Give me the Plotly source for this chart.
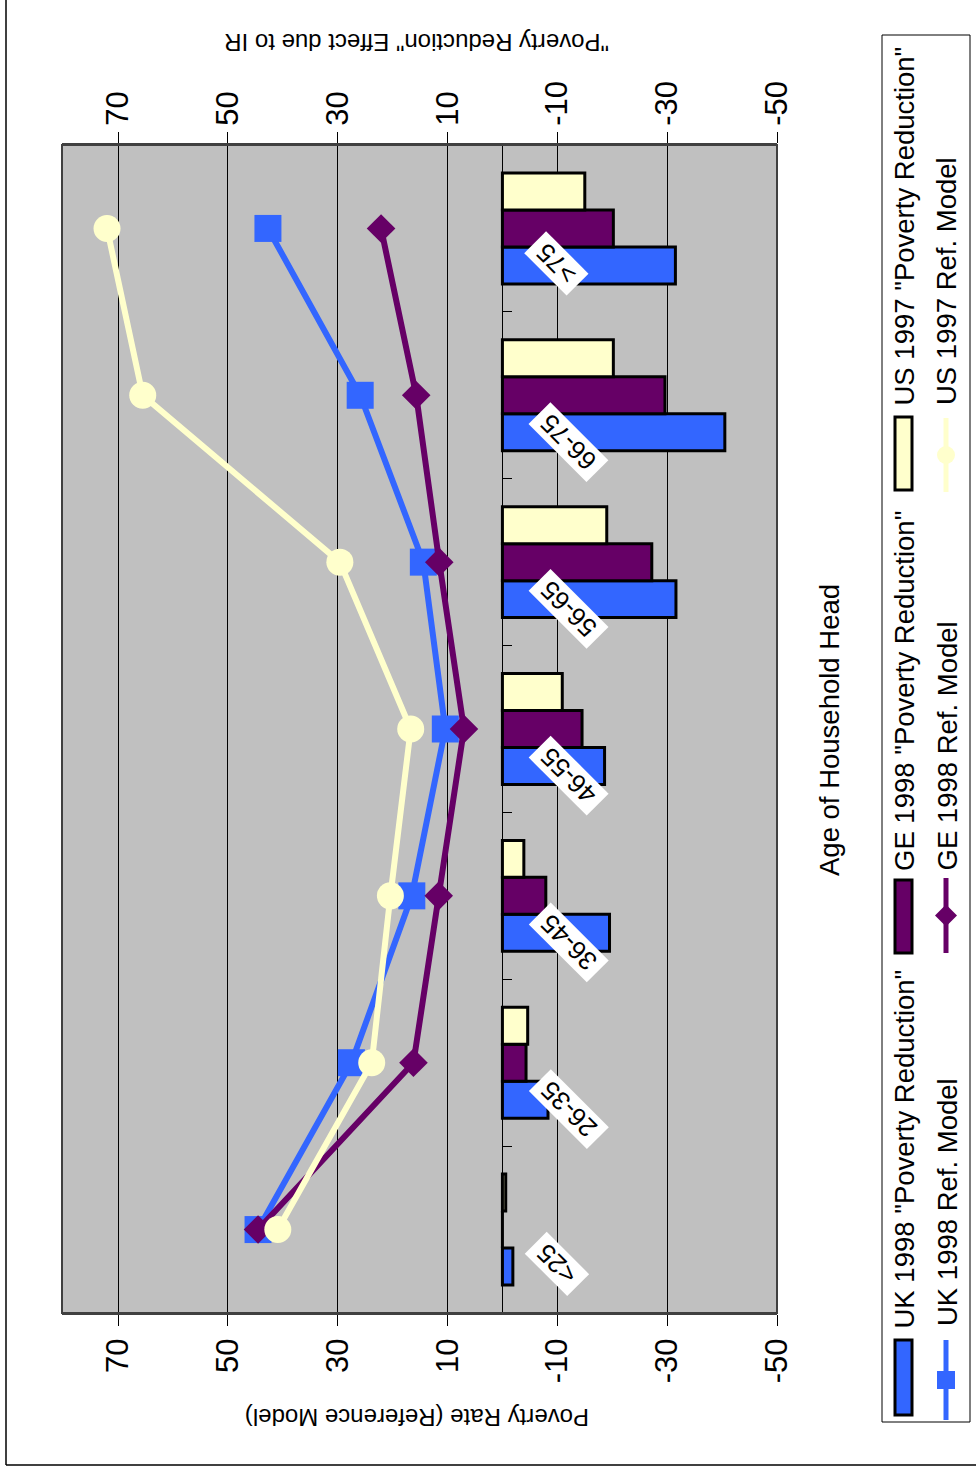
import plotly.graph_objects as go

# ---------------- data ----------------
categories = ["<25", "26-35", "36-45", "46-55", "56-65", "66-75", ">75"]

# "Poverty Reduction" effect due to IR (bars, right/top axis)
uk_reduction = [-1.9, -8.3, -19.5, -18.6, -31.6, -40.5, -31.5]
ge_reduction = [0.0, -4.3, -7.9, -14.5, -27.2, -29.6, -20.2]
us_reduction = [-0.6, -4.6, -3.9, -10.9, -19.0, -20.2, -15.0]

# Poverty rate, reference model (lines, left/bottom axis)
uk_rate = [44.5, 27.5, 16.5, 10.4, 14.4, 25.9, 42.7]
ge_rate = [44.5, 16.2, 11.6, 7.0, 11.5, 15.7, 22.1]
us_rate = [40.9, 23.8, 20.4, 16.7, 29.6, 65.5, 72.0]

tick_vals = [70, 50, 30, 10, -10, -30, -50]
tick_text = ["70", "50", "30", "10", "-10", "-30", "-50"]

legend_bar_names = ['UK 1998 "Poverty Reduction"', 'GE 1998 "Poverty Reduction"', 'US 1997 "Poverty Reduction"']
legend_line_names = ["UK 1998 Ref. Model", "GE 1998 Ref. Model", "US 1997 Ref. Model"]

title_bottom = "Poverty Rate (Reference Model)"
title_top = '"Poverty Reduction" Effect due to IR'
title_cat = "Age of Household Head"

# ---------------- style ----------------
BLUE = "#3366FF"
PURPLE = "#660066"
YELLOW = "#FFFFCC"
FONT = "Liberation Sans, Arial, sans-serif"

W, H = 976, 1472
PL, PR, PT, PB = 62, 777, 145, 1313
XR = [80.2, -50]


def X(px):
    return (px - PL) / (PR - PL)


def Y(py):
    return (PB - py) / (PB - PT)


zero_pos = (XR[0] - 0) / (XR[0] - XR[1])

fig = go.Figure()

bar_sets = [(uk_reduction, BLUE, legend_bar_names[0]),
            (ge_reduction, PURPLE, legend_bar_names[1]),
            (us_reduction, YELLOW, legend_bar_names[2])]
for vals, col, name in bar_sets:
    fig.add_trace(go.Bar(
        y=categories, x=vals, orientation="h", name=name,
        xaxis="x2", yaxis="y",
        marker=dict(color=col, line=dict(color="black", width=3)),
        showlegend=False,
    ))

line_sets = [(uk_rate, BLUE, "square", 27, legend_line_names[0]),
             (ge_rate, PURPLE, "diamond", 22, legend_line_names[1]),
             (us_rate, YELLOW, "circle", 27, legend_line_names[2])]
for vals, col, sym, sz, name in line_sets:
    fig.add_trace(go.Scatter(
        y=categories, x=vals, mode="lines+markers", name=name,
        xaxis="x", yaxis="y",
        line=dict(color=col, width=6),
        marker=dict(symbol=sym, size=sz, color=col, line=dict(width=0)),
        showlegend=False,
    ))

axis_common = dict(
    range=XR, tickmode="array", tickvals=tick_vals, ticktext=tick_text,
    tickangle=-90, tickfont=dict(family=FONT, size=31, color="black"),
    ticks="outside", ticklen=11, tickwidth=1, tickcolor="black",
    showline=True, linecolor="#404040", linewidth=2, zeroline=False,
)

fig.update_layout(
    width=W, height=H,
    margin=dict(l=PL, r=W - PR, t=PT, b=H - PB, pad=0),
    paper_bgcolor="white", plot_bgcolor="#C0C0C0",
    barmode="group", bargap=0.335, bargroupgap=0,
    showlegend=False,
    font=dict(family=FONT, color="black"),
    xaxis=dict(**axis_common, side="bottom", showgrid=True, gridcolor="black", gridwidth=1),
    xaxis2=dict(**axis_common, side="top", overlaying="x", showgrid=False),
    yaxis=dict(type="category", range=[-0.5, 6.5], anchor="free", position=zero_pos,
               side="right", showline=True, linecolor="black", linewidth=1,
               ticks="outside", tickson="boundaries", ticklen=9, tickcolor="black",
               showticklabels=False, showgrid=False, zeroline=False),
)

annotations = []
shapes = []

# category labels (rotated, white boxes)
for i, c in enumerate(categories):
    n = len(c)
    annotations.append(dict(
        x=-6.66, y=c, xref="x", yref="y", text=" " + c + " ", showarrow=False,
        textangle=-135, font=dict(family=FONT, size=26, color="black"),
        bgcolor="white", borderpad=0, xanchor="center", yanchor="middle",
        xshift=6 * n, yshift=-(17 + 6 * n),
    ))

# axis titles
annotations.append(dict(x=X(417), y=Y(1418), xref="paper", yref="paper", text=title_bottom,
                        showarrow=False, textangle=180, font=dict(family=FONT, size=24),
                        xanchor="center", yanchor="middle"))
annotations.append(dict(x=X(417), y=Y(43), xref="paper", yref="paper", text=title_top,
                        showarrow=False, textangle=180, font=dict(family=FONT, size=24),
                        xanchor="center", yanchor="middle"))
annotations.append(dict(x=X(829), y=Y(730), xref="paper", yref="paper", text=title_cat,
                        showarrow=False, textangle=-90, font=dict(family=FONT, size=27.5),
                        xanchor="center", yanchor="middle"))

# plot-area border
shapes.append(dict(type="rect", xref="paper", yref="paper", x0=0, x1=1, y0=0, y1=1,
                   line=dict(color="#404040", width=2), layer="above"))
# outer frame (left and bottom visible)
shapes.append(dict(type="line", xref="paper", yref="paper", x0=X(6), x1=X(6), y0=Y(0), y1=Y(1465),
                   line=dict(color="black", width=1.5)))
shapes.append(dict(type="line", xref="paper", yref="paper", x0=X(6), x1=X(976), y0=Y(1465), y1=Y(1465),
                   line=dict(color="black", width=1.5)))

# legend box
shapes.append(dict(type="rect", xref="paper", yref="paper", x0=X(882), x1=X(970), y0=Y(1422), y1=Y(35),
                   line=dict(color="black", width=1), fillcolor="white"))

bar_rects = [(1340, 1415), (880, 953), (417, 490)]
row1_text_bottom = [1330, 873, 407]
line_segs = [(1340, 1420), (878, 953), (418, 492)]
row2_text_bottom = [1328, 873, 407]
cols = [BLUE, PURPLE, YELLOW]
syms = ["square", "diamond", "circle"]

for k in range(3):
    y0, y1 = bar_rects[k]
    shapes.append(dict(type="rect", xref="paper", yref="paper", x0=X(895), x1=X(912),
                       y0=Y(y1), y1=Y(y0), fillcolor=cols[k], line=dict(color="black", width=3)))
    annotations.append(dict(x=X(904), y=Y(row1_text_bottom[k]), xref="paper", yref="paper",
                            text=legend_bar_names[k], showarrow=False, textangle=-90,
                            font=dict(family=FONT, size=27.5), xanchor="center", yanchor="bottom"))
    s0, s1 = line_segs[k]
    shapes.append(dict(type="line", xref="paper", yref="paper", x0=X(946), x1=X(946),
                       y0=Y(s0), y1=Y(s1), line=dict(color=cols[k], width=5)))
    cy = (s0 + s1) / 2
    if syms[k] == "square":
        shapes.append(dict(type="rect", xref="paper", yref="paper", x0=X(937), x1=X(955),
                           y0=Y(cy + 9), y1=Y(cy - 9), fillcolor=cols[k], line=dict(width=0)))
    elif syms[k] == "diamond":
        path = "M {} {} L {} {} L {} {} L {} {} Z".format(
            X(946), Y(cy - 11), X(957), Y(cy), X(946), Y(cy + 11), X(935), Y(cy))
        shapes.append(dict(type="path", xref="paper", yref="paper", path=path,
                           fillcolor=cols[k], line=dict(width=0)))
    else:
        shapes.append(dict(type="circle", xref="paper", yref="paper", x0=X(937), x1=X(955),
                           y0=Y(cy + 9), y1=Y(cy - 9), fillcolor=cols[k], line=dict(width=0)))
    annotations.append(dict(x=X(947), y=Y(row2_text_bottom[k]), xref="paper", yref="paper",
                            text=legend_line_names[k], showarrow=False, textangle=-90,
                            font=dict(family=FONT, size=27.5), xanchor="center", yanchor="bottom"))

fig.update_layout(annotations=annotations, shapes=shapes)

fig.write_html("out.html")
